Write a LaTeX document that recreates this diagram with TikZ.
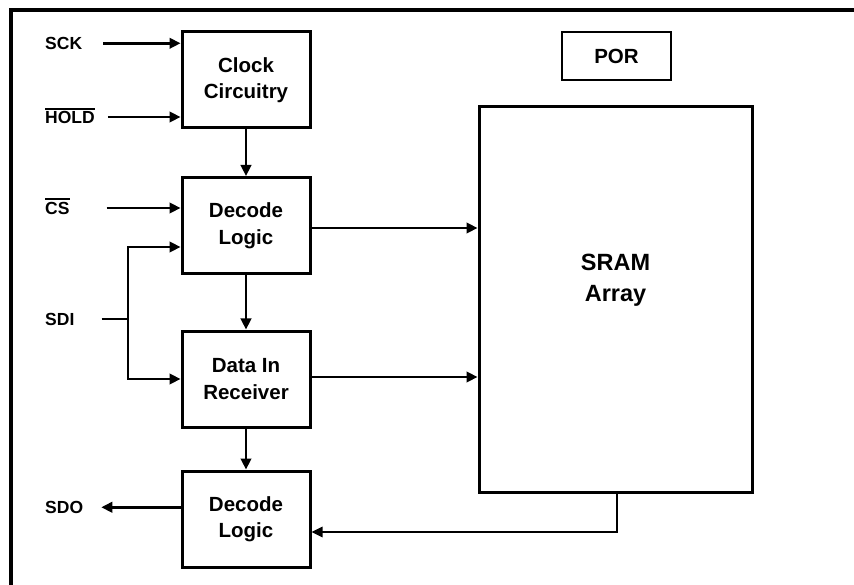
\documentclass[tikz,border=0pt]{standalone}
\usepackage{fontspec}
\setmainfont{Liberation Sans}
\usetikzlibrary{arrows.meta}
\newcommand{\barsig}[1]{\leavevmode\vbox{\hrule height 2.2pt\kern2pt\hbox{#1}}}
\tikzset{
	blk/.style={
		draw,
		rectangle,
		line width=3pt,
		minimum width=128pt,
		minimum height=96pt,
		align=center,
		font=\fontsize{20.5}{26.5}\selectfont\bfseries,
	},
	pin/.style={
		anchor=base west,
		inner sep=0pt,
		font=\fontsize{17.5}{20}\selectfont\bfseries,
	},
	arr/.style={
		line width=2.5pt,
		-{Triangle[length=11pt,width=10.5pt]}
	},
	wire/.style={
		line width=2.5pt,
	},
}

\begin{document}
\begin{tikzpicture}[x=1pt,y=-1pt]
		\useasboundingbox (0,0) rectangle (854,585);
		\draw[line width=3.5pt] (11,585) -- (11,10) -- (854,10);

		\node[blk]     	(clock) at (246,80) {Clock\\Circuitry};
		\node[blk]     	(dec) at (246,225.5) {Decode\\Logic};
		\node[blk]     	(datain) at (246,379) {Data In\\Receiver};
		\node[blk]     	(decout) at (246,519) {Decode\\Logic};
		\node[blk, line width=2.6pt, minimum width=109pt, minimum height=48pt] (por) at (616.5,56) {POR};
		\node[blk, minimum width=273pt, minimum height=385pt,
			label={[font=\fontsize{23.5}{31}\selectfont\bfseries, align=center, yshift=19pt]center:SRAM\\Array}]
							(sram) at (615.5,299.5) {};

		\node[pin] 			(sck) at (45,49.3) {SCK};
		\node[pin] 			(hold) at (45,124) {\barsig{HOLD}};
		\node[pin] 			(cs) at (45,214.3) {\barsig{CS}};
		\node[pin] 			(sdi) at (45,325.7) {SDI};
		\node[pin] 			(sdo) at (45,513.3) {SDO};
		\coordinate 		(split) at (128,319);

		\draw[arr] 			([xshift=21pt]sck.east) -- (sck -| clock.west);
		\draw[arr] 			([xshift=13pt]hold.east |- 0,117) -- (clock.west |- 0,117);
		\draw[arr] 			([xshift=37pt]cs.east |- 0,208) -- (dec.west |- 0,208);
		\draw[wire] 		([xshift=27pt]sdi.east |- split) -- (split);
		\draw[arr] 			(split) |- ([yshift=-21.5pt]dec.west);
		\draw[arr] 			(split) |- (datain.west);
		\draw[arr] 			(sdo.east -| decout.west) -- ([xshift=18pt]sdo.east);

		\draw[arr] 			(clock) -- (dec);
		\draw[arr] 			(dec) -- (datain);
		\draw[arr] 			(datain) -- (decout);
		\draw[arr] 			([yshift=-2.5pt]dec.east) -- ([yshift=-2.5pt]dec.east -| sram.west);
		\draw[arr] 			([yshift=2pt]datain.east) -- ([yshift=2pt]datain.east -| sram.west);
		\draw[arr, line width=1.6pt] ([xshift=1.5pt]sram.south) |- ([yshift=-13pt]decout.east);
\end{tikzpicture}
\end{document}
